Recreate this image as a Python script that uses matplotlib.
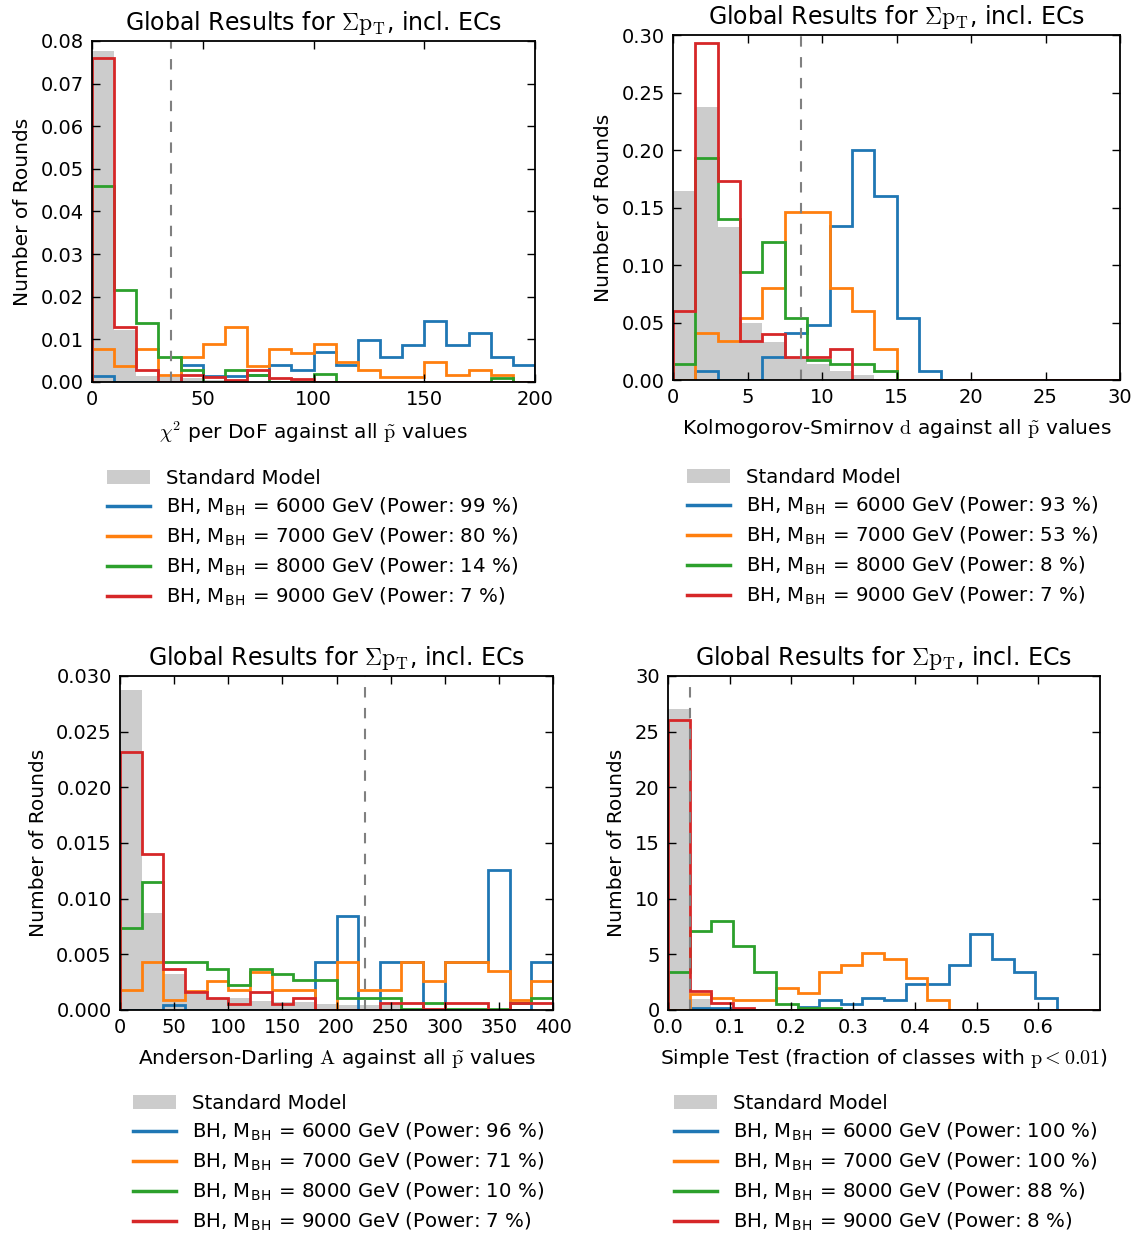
import numpy as np
import matplotlib
matplotlib.use("Agg")
import matplotlib.pyplot as plt
from matplotlib.patches import Patch
from matplotlib.lines import Line2D

plt.rcParams['mathtext.fontset'] = 'cm'
plt.rcParams['font.family'] = 'DejaVu Sans'

colors = ['#1f77b4', '#ff7f0e', '#2ca02c', '#d62728']
sm_color = '#cccccc'
masses = [6000, 7000, 8000, 9000]

# chi2 per DoF, 20 bins from 0 to 200
chi2_edges = np.linspace(0, 200, 21)
chi2_sm = [0.0777, 0.0123, 0.0013, 0.0012, 0.0010, 0.0005, 0.0003, 0.0, 0.0003, 0.0,
           0.0, 0.0, 0.0, 0.0, 0.0, 0.0, 0.0, 0.0, 0.0, 0.0]
chi2_6000 = [0.0013, 0.0, 0.0, 0.0, 0.0041, 0.0013, 0.0013, 0.0017, 0.0041, 0.0029,
             0.0070, 0.0041, 0.0099, 0.0058, 0.0086, 0.0144, 0.0086, 0.0115, 0.0058, 0.0041]
chi2_7000 = [0.0078, 0.0038, 0.0078, 0.0017, 0.0058, 0.0089, 0.0128, 0.0038, 0.0078, 0.0068,
             0.0088, 0.0048, 0.0029, 0.0012, 0.0012, 0.0048, 0.0017, 0.0029, 0.0017, 0.0]
chi2_8000 = [0.0459, 0.0216, 0.0138, 0.0058, 0.0029, 0.0, 0.0027, 0.0017, 0.0, 0.0,
             0.0019, 0.0, 0.0, 0.0, 0.0, 0.0, 0.0, 0.0, 0.0009, 0.0]
chi2_9000 = [0.0761, 0.0128, 0.0027, 0.0, 0.0017, 0.0012, 0.0005, 0.0029, 0.0010, 0.0008,
             0.0, 0.0, 0.0, 0.0, 0.0, 0.0, 0.0, 0.0, 0.0, 0.0]
chi2_power = [99, 80, 14, 7]
chi2_cut = 35.5

# Kolmogorov-Smirnov d, 20 bins from 0 to 30
ks_edges = np.linspace(0, 30, 21)
ks_sm = [0.164, 0.237, 0.133, 0.050, 0.033, 0.020, 0.014, 0.008, 0.004, 0.0,
         0.0, 0.0, 0.0, 0.0, 0.0, 0.0, 0.0, 0.0, 0.0, 0.0]
ks_6000 = [0.0, 0.0076, 0.0, 0.0, 0.020, 0.041, 0.048, 0.1335, 0.200, 0.160,
           0.054, 0.0076, 0.0, 0.0, 0.0, 0.0, 0.0, 0.0, 0.0, 0.0]
ks_7000 = [0.0, 0.041, 0.034, 0.054, 0.080, 0.1465, 0.1465, 0.080, 0.060, 0.027,
           0.0, 0.0, 0.0, 0.0, 0.0, 0.0, 0.0, 0.0, 0.0, 0.0]
ks_8000 = [0.014, 0.193, 0.140, 0.094, 0.120, 0.054, 0.017, 0.014, 0.014, 0.0076,
           0.0, 0.0, 0.0, 0.0, 0.0, 0.0, 0.0, 0.0, 0.0, 0.0]
ks_9000 = [0.060, 0.293, 0.173, 0.034, 0.040, 0.020, 0.020, 0.027, 0.0, 0.0,
           0.0, 0.0, 0.0, 0.0, 0.0, 0.0, 0.0, 0.0, 0.0, 0.0]
ks_power = [93, 53, 8, 7]
ks_cut = 8.57

# Anderson-Darling A, 20 bins from 0 to 400
ad_edges = np.linspace(0, 400, 21)
ad_sm = [0.0287, 0.0087, 0.0032, 0.0014, 0.0011, 0.0011, 0.0008, 0.0007, 0.0007, 0.0005,
         0.0004, 0.0004, 0.0004, 0.0, 0.0, 0.0, 0.0, 0.0, 0.0, 0.0]
ad_6000 = [0.0, 0.0, 0.0004, 0.0, 0.0, 0.0, 0.0, 0.0, 0.0, 0.0043,
           0.0084, 0.0, 0.0043, 0.0043, 0.0, 0.0043, 0.0043, 0.0126, 0.0, 0.0043]
ad_7000 = [0.0018, 0.0043, 0.0009, 0.0017, 0.0026, 0.0018, 0.0034, 0.0018, 0.0018, 0.0,
           0.0043, 0.0018, 0.0018, 0.0043, 0.0026, 0.0043, 0.0043, 0.0035, 0.0009, 0.0026]
ad_8000 = [0.0074, 0.0115, 0.0043, 0.0043, 0.0037, 0.0022, 0.0037, 0.0032, 0.0027, 0.0027,
           0.0011, 0.0011, 0.0011, 0.0001, 0.0006, 0.0001, 0.0001, 0.0001, 0.0006, 0.0011]
ad_9000 = [0.0232, 0.0140, 0.0037, 0.0016, 0.0011, 0.0005, 0.0016, 0.0005, 0.0011, 0.0,
           0.0, 0.0, 0.0006, 0.0006, 0.0001, 0.0006, 0.0006, 0.0, 0.0006, 0.0006]
ad_power = [96, 71, 10, 7]
ad_cut = 226.5

# Simple test, 20 bins from 0 to 0.7
st_edges = np.linspace(0, 0.7, 21)
st_sm = [27.0, 0.96, 0.1, 0.0, 0.0, 0.0, 0.0, 0.0, 0.0, 0.0,
         0.0, 0.0, 0.0, 0.0, 0.0, 0.0, 0.0, 0.0, 0.0, 0.0]
st_6000 = [0.0, 0.2, 0.2, 0.0, 0.0, 0.0, 0.27, 0.87, 0.57, 1.1,
           0.87, 2.3, 2.3, 4.03, 6.84, 4.54, 3.44, 1.1, 0.0, 0.0]
st_7000 = [0.0, 1.4, 1.1, 0.87, 0.87, 2.0, 1.5, 3.44, 4.03, 5.14,
           4.6, 2.9, 0.87, 0.0, 0.0, 0.0, 0.0, 0.0, 0.0, 0.0]
st_8000 = [3.44, 7.1, 8.0, 5.74, 3.44, 0.57, 0.2, 0.2, 0.0, 0.0,
           0.0, 0.0, 0.0, 0.0, 0.0, 0.0, 0.0, 0.0, 0.0, 0.0]
st_9000 = [26.0, 1.7, 0.66, 0.2, 0.0, 0.0, 0.0, 0.0, 0.0, 0.0,
           0.0, 0.0, 0.0, 0.0, 0.0, 0.0, 0.0, 0.0, 0.0, 0.0]
st_power = [100, 100, 88, 8]
st_cut = 0.036

title = r"Global Results for $\Sigma\mathrm{p}_\mathrm{T}$, incl. ECs"

fig = plt.figure(figsize=(11.4, 12.33), dpi=100)

panels = [
    dict(rect=[0.0807, 0.6902, 0.3886, 0.2766], edges=chi2_edges, sm=chi2_sm,
         bh=[chi2_6000, chi2_7000, chi2_8000, chi2_9000], power=chi2_power, cut=chi2_cut,
         xlim=(0, 200), ylim=(0, 0.08), yticks=np.arange(0, 0.081, 0.01), yfmt='%.2f',
         xticks=np.arange(0, 201, 50), xfmt='%d',
         xlabel=r"$\chi^2$ per DoF against all $\tilde{\mathrm{p}}$ values",
         leg=(107, 469)),
    dict(rect=[0.5904, 0.6918, 0.3921, 0.2798], edges=ks_edges, sm=ks_sm,
         bh=[ks_6000, ks_7000, ks_8000, ks_9000], power=ks_power, cut=ks_cut,
         xlim=(0, 30), ylim=(0, 0.30), yticks=np.arange(0, 0.301, 0.05), yfmt='%.2f',
         xticks=np.arange(0, 31, 5), xfmt='%d',
         xlabel=r"Kolmogorov-Smirnov $\mathrm{d}$ against all $\tilde{\mathrm{p}}$ values",
         leg=(687, 468)),
    dict(rect=[0.1053, 0.1809, 0.3798, 0.2709], edges=ad_edges, sm=ad_sm,
         bh=[ad_6000, ad_7000, ad_8000, ad_9000], power=ad_power, cut=ad_cut,
         xlim=(0, 400), ylim=(0, 0.030), yticks=np.arange(0, 0.0301, 0.005), yfmt='%.3f',
         xticks=np.arange(0, 401, 50), xfmt='%d',
         xlabel=r"Anderson-Darling $\mathrm{A}$ against all $\tilde{\mathrm{p}}$ values",
         leg=(133, 1094)),
    dict(rect=[0.5860, 0.1809, 0.3789, 0.2709], edges=st_edges, sm=st_sm,
         bh=[st_6000, st_7000, st_8000, st_9000], power=st_power, cut=st_cut,
         xlim=(0, 0.7), ylim=(0, 30), yticks=np.arange(0, 31, 5), yfmt='%d',
         xticks=np.arange(0, 0.61, 0.1), xfmt='%.1f',
         xlabel=r"Simple Test (fraction of classes with $\mathrm{p} < 0.01$)",
         leg=(674, 1094)),
]

for p in panels:
    ax = fig.add_axes(p['rect'])
    ax.stairs(p['sm'], p['edges'], fill=True, color=sm_color, lw=0)
    for vals, c in zip(p['bh'], colors):
        ax.stairs(vals, p['edges'], color=c, lw=2)
    ax.axvline(p['cut'], color='gray', ls='--', lw=1.5, dashes=(5, 5))
    ax.set_xlim(*p['xlim'])
    ax.set_ylim(*p['ylim'])
    ax.set_xticks(p['xticks'])
    ax.set_yticks(p['yticks'])
    ax.set_xticklabels([p['xfmt'] % v for v in p['xticks']])
    ax.set_yticklabels([p['yfmt'] % v for v in p['yticks']])
    ax.tick_params(direction='in', top=True, right=True, length=6, width=1,
                   labelsize=14, pad=6)
    for s in ax.spines.values():
        s.set_linewidth(1.3)
    ax.set_title(title, fontsize=17, pad=8)
    ax.set_xlabel(p['xlabel'], fontsize=14.5, labelpad=7)
    ax.set_ylabel("Number of Rounds", fontsize=14.5, labelpad=6)

    handles = [Patch(facecolor=sm_color, edgecolor='none')]
    labels = ["Standard Model"]
    for m, pw, c in zip(masses, p['power'], colors):
        handles.append(Line2D([], [], color=c, lw=2.5))
        labels.append(r"BH, M$_\mathregular{BH}$ = %d GeV (Power: %d %%)" % (m, pw))
    lx, ly = p['leg']
    fig.legend(handles, labels, loc='upper left',
               bbox_to_anchor=(lx / 1140, 1 - ly / 1233), bbox_transform=fig.transFigure,
               frameon=False, fontsize=14.2, borderpad=0, borderaxespad=0,
               handlelength=2.2, handletextpad=0.8, labelspacing=0.39)

fig.savefig("out.png", dpi=100)
